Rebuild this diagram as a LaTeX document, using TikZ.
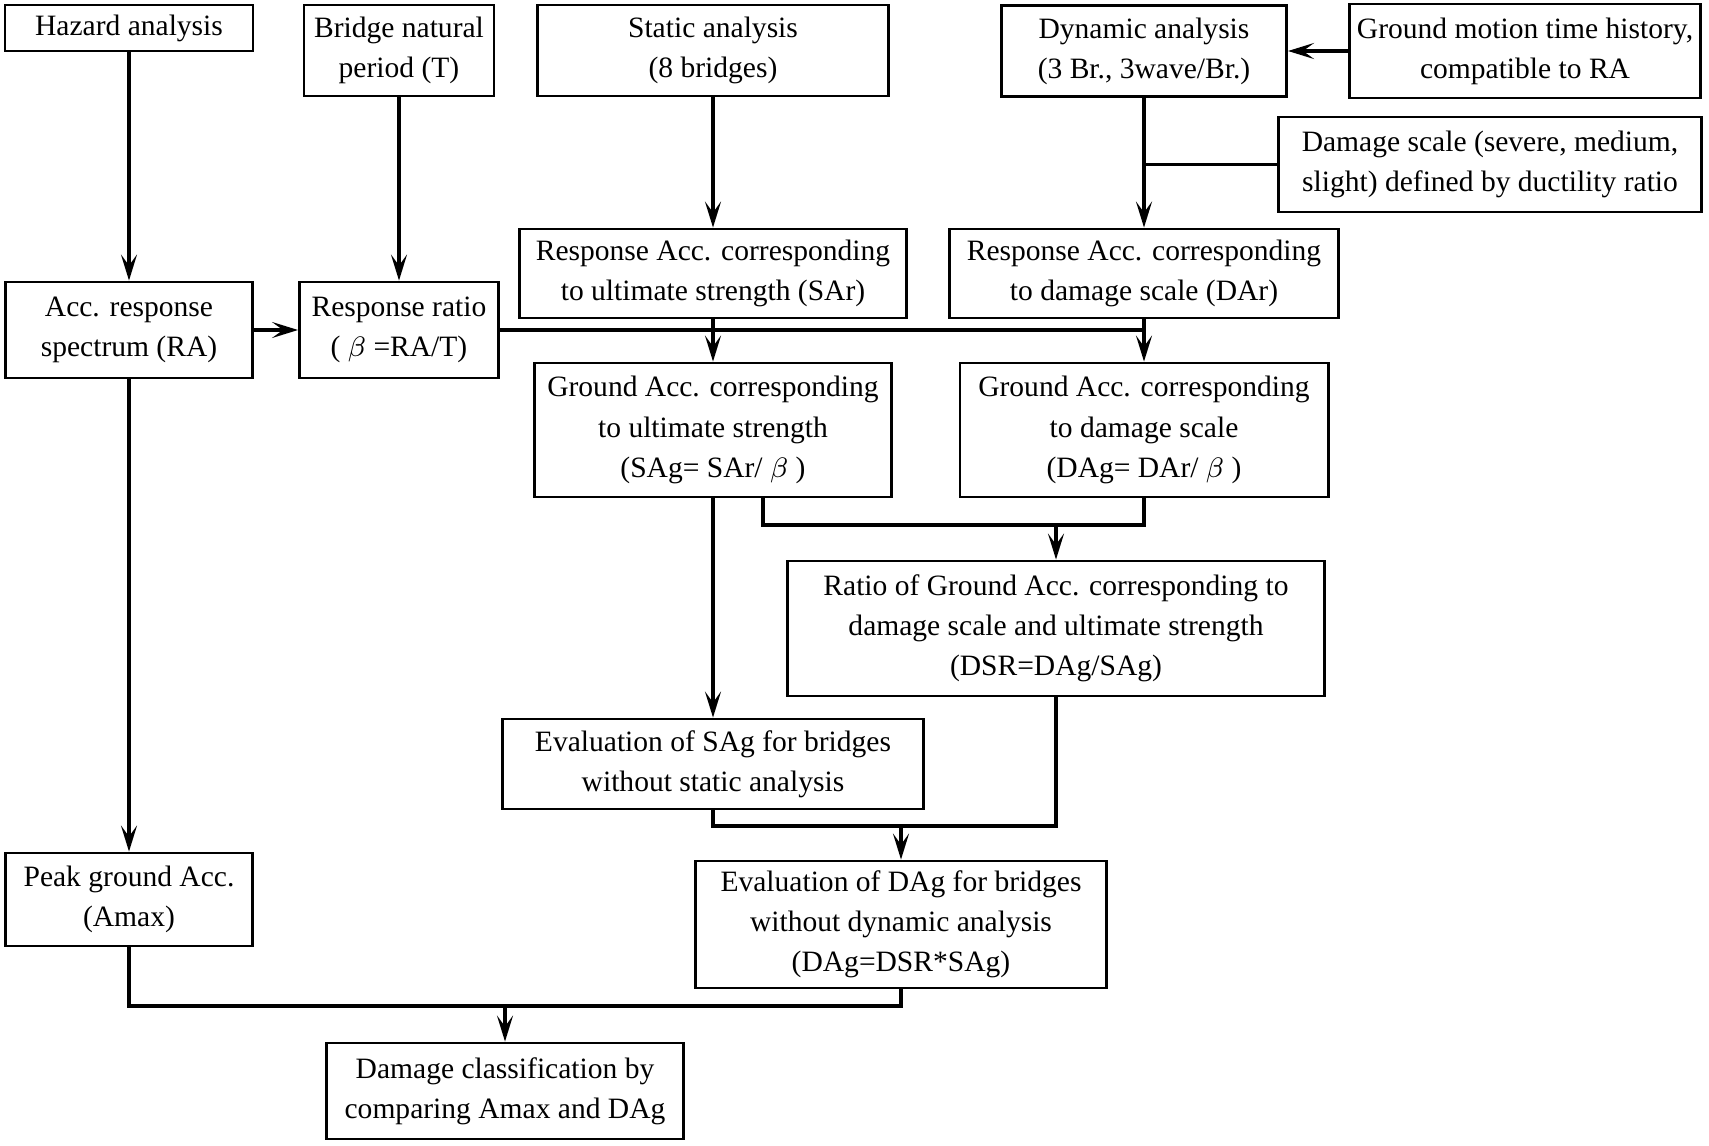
\documentclass[tikz,border=0pt]{standalone}
\usepackage{fontspec}
\setmainfont{Liberation Serif}
\usetikzlibrary{arrows.meta}

\begin{document}
\begin{tikzpicture}[x=0.01cm, y=-0.01cm,
	blk/.style={draw, line width=0.8pt, align=center, inner sep=1pt, font=\fontsize{8.4}{11.4}\selectfont},
	ln/.style={line width=0.9pt},
	arr/.style={line width=0.9pt, -{Stealth[length=2.6mm, width=1.6mm, inset=1.1mm]}}]
	\useasboundingbox (0,0) rectangle (1709,1145);
	% top row
	\node[blk, minimum width=2.48cm, minimum height=0.46cm] (haz) at (129,28) {Hazard analysis};
	\node[blk, minimum width=1.90cm, minimum height=0.91cm] (bnp) at (399,50.5) {Bridge natural\\period (T)};
	\node[blk, minimum width=3.51cm, minimum height=0.91cm] (sta) at (713,50.5) {Static analysis\\(8 bridges)};
	\node[blk, minimum width=2.85cm, minimum height=0.91cm] (dyn) at (1144,51) {Dynamic analysis\\(3 Br., 3wave/Br.)};
	\node[blk, minimum width=3.51cm, minimum height=0.94cm] (gmt) at (1525,51) {Ground motion time history,\\compatible to RA};
	\node[blk, minimum width=4.22cm, minimum height=0.95cm] (dms) at (1490,164.5) {Damage scale (severe, medium,\\slight) defined by ductility ratio};
	% response level
	\node[blk, minimum width=2.47cm, minimum height=0.96cm] (ra) at (129,330) {Acc. response\\spectrum (RA)};
	\node[blk, minimum width=1.99cm, minimum height=0.96cm] (rr) at (399,330) {Response ratio\\( $\beta$ =RA/T)};
	\node[blk, minimum width=3.86cm, minimum height=0.89cm] (sar) at (713,273.5) {Response Acc. corresponding\\to ultimate strength (SAr)};
	\node[blk, minimum width=3.89cm, minimum height=0.89cm] (dar) at (1144,273.5) {Response Acc. corresponding\\to damage scale (DAr)};
	% ground level
	\node[blk, minimum width=3.57cm, minimum height=1.34cm] (gsa) at (713,430) {Ground Acc. corresponding\\to ultimate strength\\(SAg= SAr/ $\beta$ )};
	\node[blk, minimum width=3.68cm, minimum height=1.34cm] (gda) at (1144,430) {Ground Acc. corresponding\\to damage scale\\(DAg= DAr/ $\beta$ )};
	\node[blk, minimum width=5.37cm, minimum height=1.35cm] (dsr) at (1056,628.5) {Ratio of Ground Acc. corresponding to\\damage scale and ultimate strength\\(DSR=DAg/SAg)};
	\node[blk, minimum width=4.20cm, minimum height=0.90cm] (esa) at (713,764) {Evaluation of SAg for bridges\\without static analysis};
	\node[blk, minimum width=2.47cm, minimum height=0.93cm] (pga) at (129,899.5) {Peak ground Acc.\\(Amax)};
	\node[blk, minimum width=4.11cm, minimum height=1.27cm] (eda) at (901,924.5) {Evaluation of DAg for bridges\\without dynamic analysis\\(DAg=DSR*SAg)};
	\node[blk, minimum width=3.56cm, minimum height=0.96cm] (dcl) at (505,1091) {Damage classification by\\comparing Amax and DAg};
	% junction points
	\coordinate (j1) at (763,525);
	\coordinate (j2) at (713,826);
	\coordinate (j3) at (129,1006);

	\draw[arr] (haz) -- (ra);
	\draw[arr] (ra) -- (pga);
	\draw[arr] (ra) -- (rr);
	\draw[arr] (bnp) -- (rr);
	\draw[arr] (sta) -- (sar);
	\draw[arr] (dyn) -- (dar);
	\draw[arr] (gmt.west) -- (gmt.west -| dyn.east);
	\draw[ln] (dms.west) -- (dms.west -| dyn.south);
	\draw[ln] (rr.east) -- (rr.east -| dar.south);
	\draw[arr] (sar) -- (gsa);
	\draw[arr] (dar) -- (gda);
	\draw[ln] (gsa.south -| j1) -- (j1) -| (gda.south);
	\draw[arr] (j1 -| dsr.north) -- (dsr.north);
	\draw[arr] (gsa) -- (esa);
	\draw[ln] (esa.south) -- (j2) -| (dsr.south);
	\draw[arr] (j2 -| eda.north) -- (eda.north);
	\draw[ln] (pga.south) -- (j3) -| (eda.south);
	\draw[arr] (j3 -| dcl.north) -- (dcl.north);
\end{tikzpicture}
\end{document}
